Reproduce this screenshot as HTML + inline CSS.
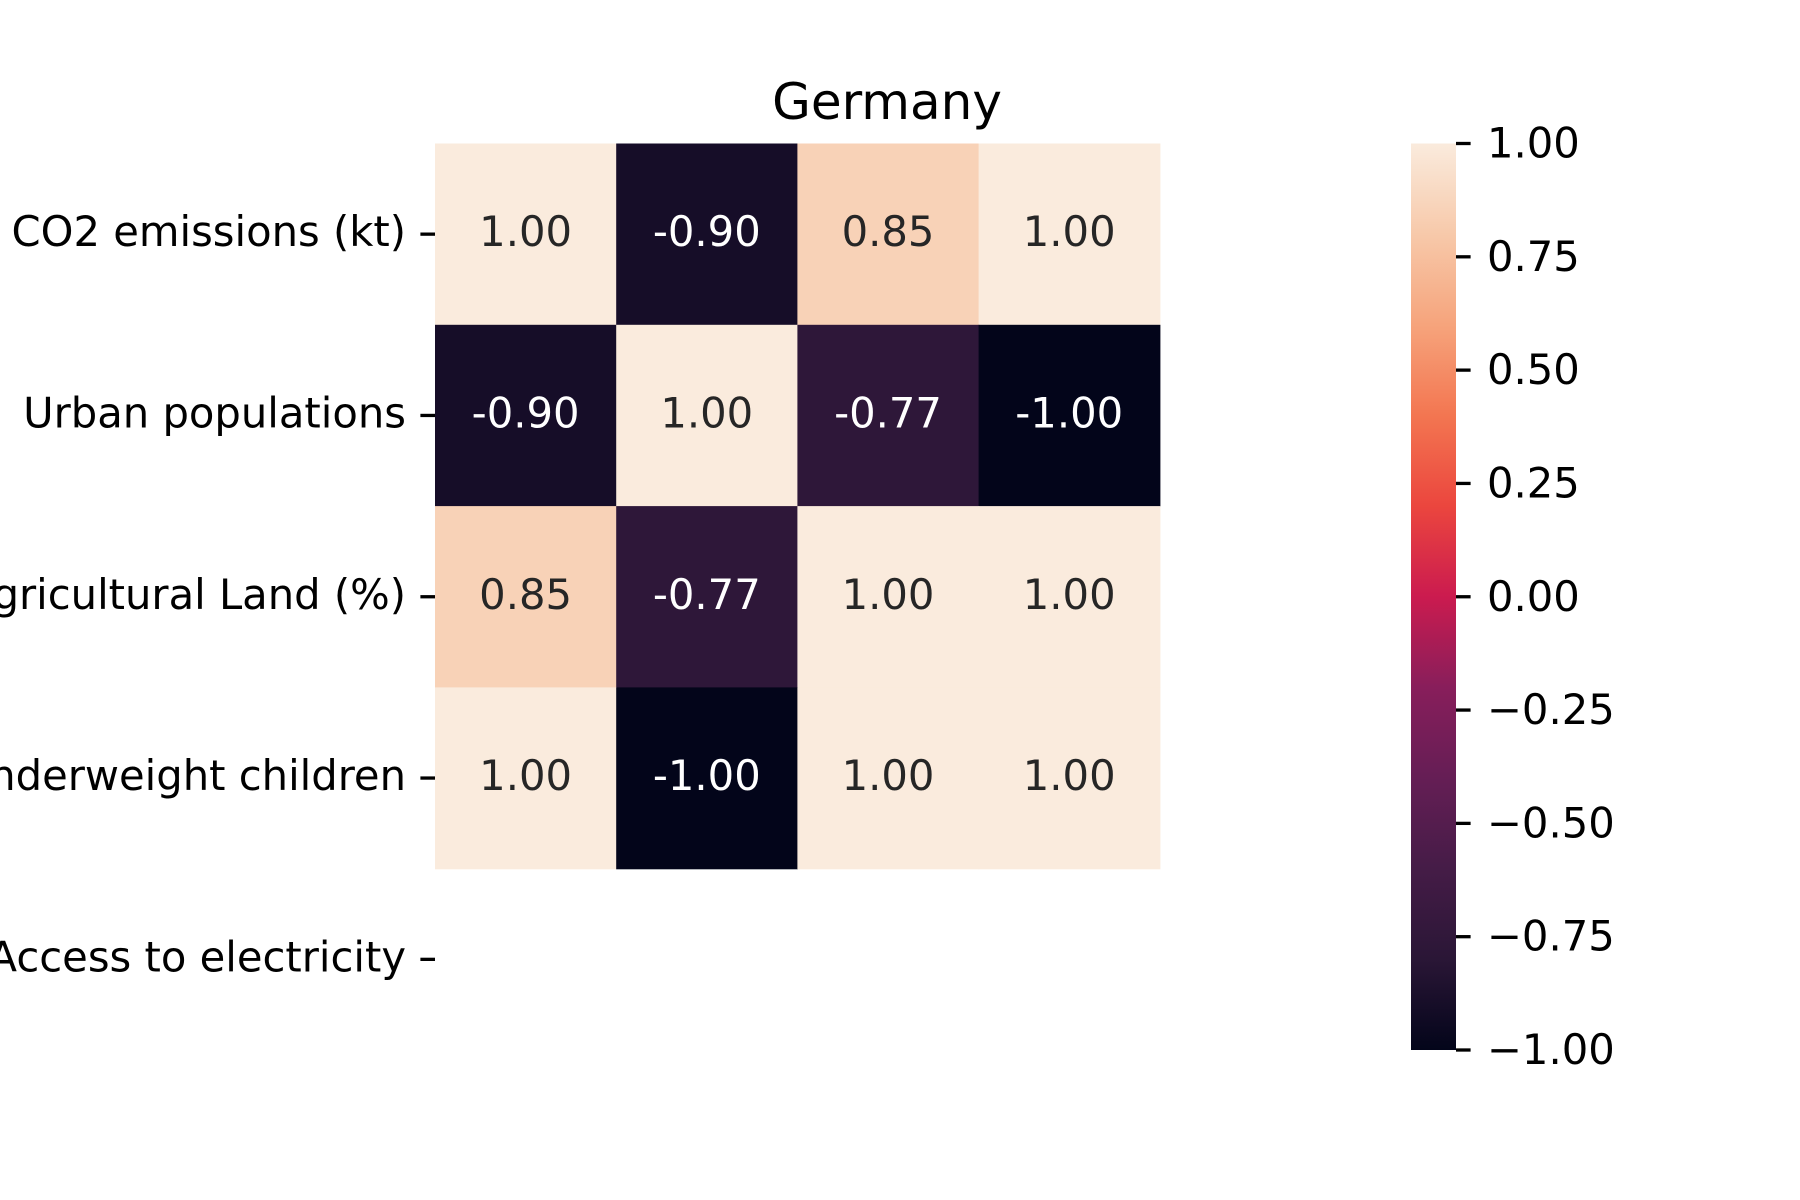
<!DOCTYPE html>
<html><head><meta charset="utf-8"><style>
html,body{margin:0;padding:0;background:#fff;width:1800px;height:1200px;overflow:hidden}
svg text{font-family:"DejaVu Sans","Liberation Sans",sans-serif}
</style></head><body>
<svg id="chart" width="1800" height="1200" viewBox="0 0 1800 1200" xmlns="http://www.w3.org/2000/svg">
<defs>
<linearGradient id="rocket" x1="0" y1="1" x2="0" y2="0">
<stop offset="0" stop-color="#03051a"/><stop offset="0.1" stop-color="#2a1636"/>
<stop offset="0.2" stop-color="#451c47"/><stop offset="0.3" stop-color="#651e55"/>
<stop offset="0.4" stop-color="#881e5b"/><stop offset="0.5" stop-color="#cb1b4f"/>
<stop offset="0.6" stop-color="#eb463e"/><stop offset="0.7" stop-color="#f37651"/>
<stop offset="0.8" stop-color="#f6a47c"/><stop offset="0.9" stop-color="#f7c9aa"/>
<stop offset="1" stop-color="#faebdd"/>
</linearGradient>
</defs>
<text x="887" y="119" font-size="50" text-anchor="middle" fill="#000">Germany</text>
<g id="cells"></g>
<g id="ylabels"></g>
<rect x="1411" y="143.5" width="45" height="906.5" fill="url(#rocket)"/>
<g id="cbticks"></g>
</svg>
<script>
const rowLabels = ["CO2 emissions (kt)","Urban populations","Agricultural Land (%)","Underweight children","Access to electricity"];
const row0 = [1.00,-0.90,0.85,1.00];
const row1 = [-0.90,1.00,-0.77,-1.00];
const row2 = [0.85,-0.77,1.00,1.00];
const row3 = [1.00,-1.00,1.00,1.00];
const row4 = [null,null,null,null];
const cbTicks = [1.00,0.75,0.50,0.25,0.00,-0.25,-0.50,-0.75,-1.00];
const rows = [row0,row1,row2,row3,row4];

const X0=435, CW=181.2, Y0=143.5, RH=181.3, CB0=143.5, CB1=1050;
const xPos = j => X0 + j*CW;
const yPos = i => Y0 + i*RH;
const cbY = v => CB1 - (v+1)/2*(CB1-CB0);
const stops=[[0,"#03051a"],[0.1,"#2a1636"],[0.2,"#451c47"],[0.3,"#651e55"],[0.4,"#881e5b"],[0.5,"#cb1b4f"],[0.6,"#eb463e"],[0.7,"#f37651"],[0.8,"#f6a47c"],[0.9,"#f7c9aa"],[1,"#faebdd"]];
function hex(h){return [1,3,5].map(k=>parseInt(h.substr(k,2),16));}
function color(v){
  const t=Math.max(0,Math.min(1,(v+1)/2));
  for(let k=1;k<stops.length;k++){ if(t<=stops[k][0]){
    const a=stops[k-1],b=stops[k],f=(t-a[0])/(b[0]-a[0]);
    const ca=hex(a[1]),cb=hex(b[1]);
    return "rgb("+ca.map((c,i)=>Math.round(c+(cb[i]-c)*f)).join(",")+")";}}
  return stops[stops.length-1][1];
}
const NS="http://www.w3.org/2000/svg";
const cells=document.getElementById("cells");
rows.forEach((r,i)=>r.forEach((v,j)=>{
  if(v===null) return;
  const rect=document.createElementNS(NS,"rect");
  
  
  rect.setAttribute("x",xPos(j));rect.setAttribute("y",yPos(i));
  rect.setAttribute("width",CW+0.6);rect.setAttribute("height",RH+0.6);
  rect.setAttribute("fill",color(v));
  cells.appendChild(rect);
  const t=document.createElementNS(NS,"text");
  
  
  t.setAttribute("x",xPos(j)+CW/2);t.setAttribute("y",yPos(i)+RH/2+12);
  t.setAttribute("font-size","41.7");t.setAttribute("text-anchor","middle");
  t.setAttribute("fill",v<0?"#ffffff":"#262626");
  t.textContent=v.toFixed(2);
  cells.appendChild(t);
}));
const yl=document.getElementById("ylabels");
rowLabels.forEach((lab,i)=>{
  const yc=yPos(i)+RH/2;
  const l=document.createElementNS(NS,"line");
  
  
  l.setAttribute("x1",X0-14.6);l.setAttribute("x2",X0);l.setAttribute("y1",yc);l.setAttribute("y2",yc);
  l.setAttribute("stroke","#000");l.setAttribute("stroke-width","3.3");
  yl.appendChild(l);
  const t=document.createElementNS(NS,"text");
  
  
  t.setAttribute("x",X0-29);t.setAttribute("y",yc+12);t.setAttribute("font-size","41.7");
  t.setAttribute("text-anchor","end");t.setAttribute("fill","#000");
  t.textContent=lab;
  yl.appendChild(t);
});
const cb=document.getElementById("cbticks");
cbTicks.forEach(v=>{
  const y=cbY(v);
  const l=document.createElementNS(NS,"line");
  
  
  l.setAttribute("x1",1456);l.setAttribute("x2",1470.6);l.setAttribute("y1",y);l.setAttribute("y2",y);
  l.setAttribute("stroke","#000");l.setAttribute("stroke-width","3.3");
  cb.appendChild(l);
  const t=document.createElementNS(NS,"text");
  
  
  t.setAttribute("x",1487);t.setAttribute("y",y+14);t.setAttribute("font-size","41.7");t.setAttribute("fill","#000");
  t.textContent=(v<0?"\u2212":"")+Math.abs(v).toFixed(2);
  cb.appendChild(t);
});
</script>
</body></html>
